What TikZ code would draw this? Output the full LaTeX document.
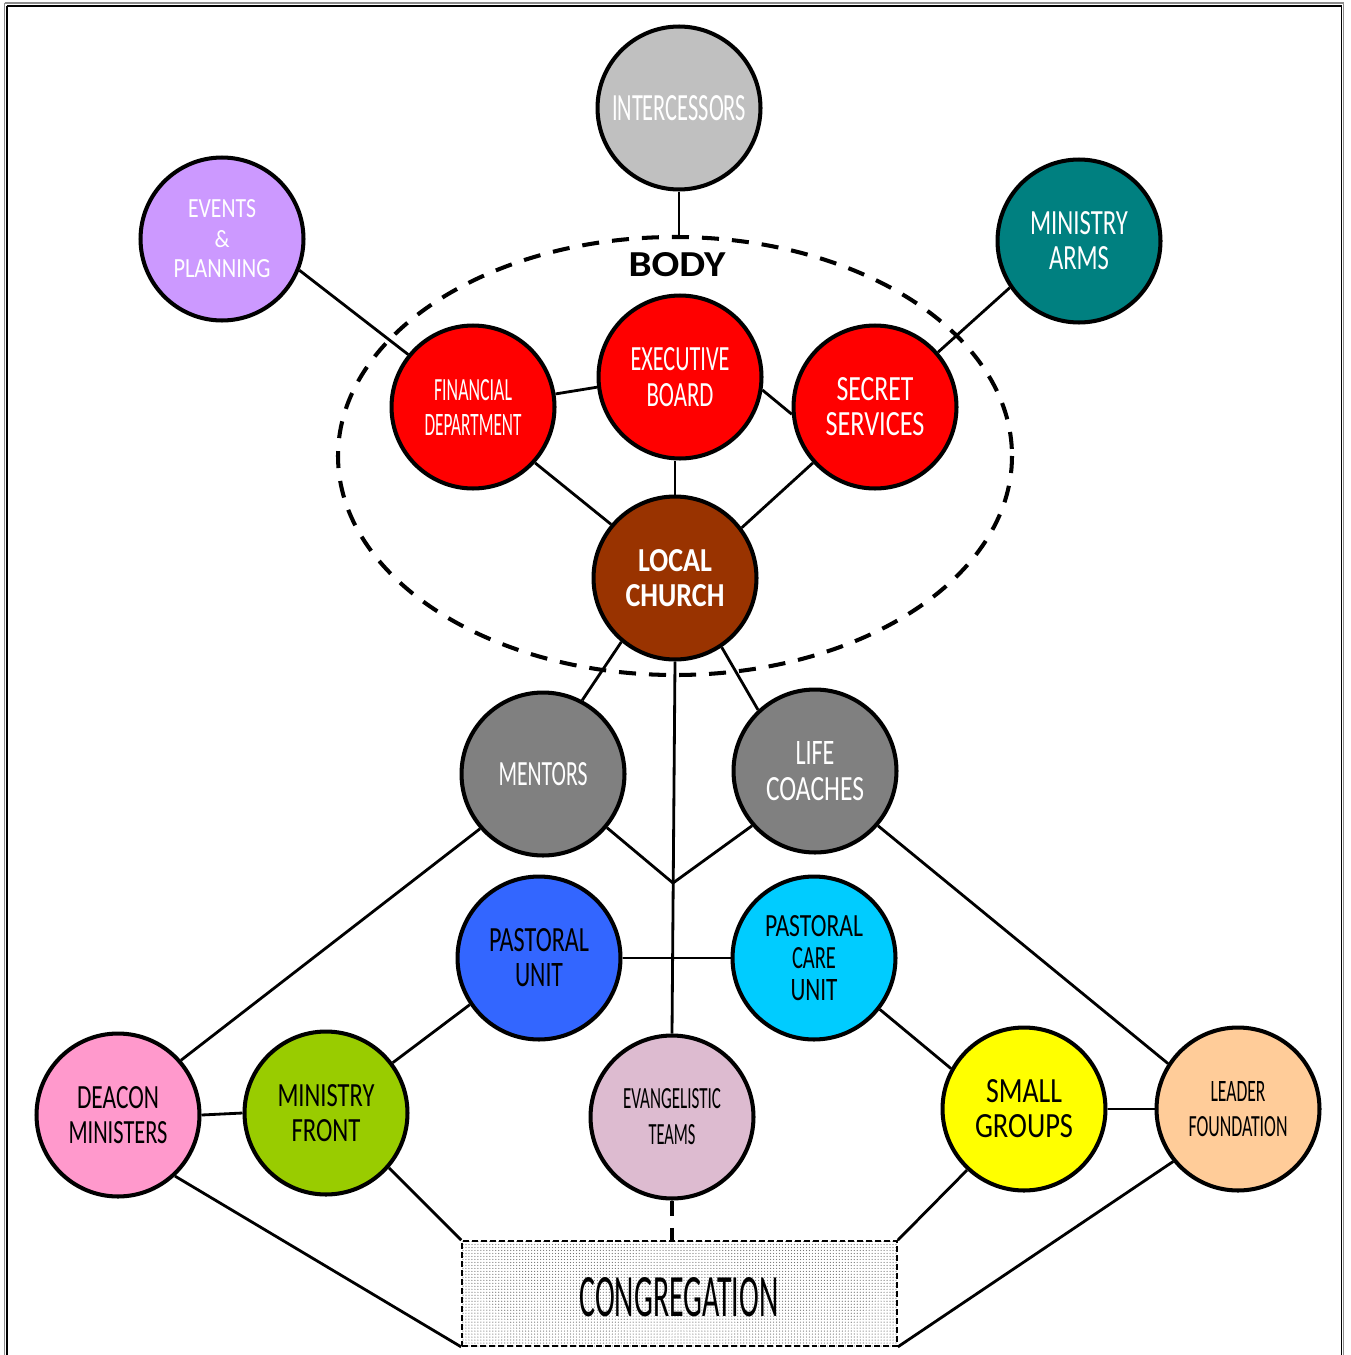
\documentclass[tikz,border=0pt]{standalone}
\usepackage{fontspec}
\setmainfont{Carlito}
\usepackage{graphicx}
\usetikzlibrary{patterns.meta,calc}
\newlength\pxu \setlength\pxu{0.02cm}
\newcommand\fitl[3]{\resizebox{#1\pxu}{#2\pxu}{#3}}
\definecolor{cInt}{RGB}{192,192,192}
\definecolor{cEv}{RGB}{204,153,255}
\definecolor{cArms}{RGB}{0,128,128}
\definecolor{cRed}{RGB}{255,0,0}
\definecolor{cLoc}{RGB}{153,51,0}
\definecolor{cGray}{RGB}{128,128,128}
\definecolor{cPU}{RGB}{51,102,255}
\definecolor{cPCU}{RGB}{0,204,255}
\definecolor{cDea}{RGB}{255,153,204}
\definecolor{cMF}{RGB}{153,204,0}
\definecolor{cEvt}{RGB}{221,187,208}
\definecolor{cSG}{RGB}{255,255,0}
\definecolor{cLF}{RGB}{255,204,153}
\begin{document}
\begin{tikzpicture}[x=0.02cm, y=-0.02cm,
  circ/.style={circle, draw=black, line width=2.3pt, minimum size=3.26cm, inner sep=0pt, align=center},
  conn/.style={line width=1.6pt},
  ls30/.style={font=\fontsize{10pt}{17.07pt}\selectfont},
  ls32/.style={font=\fontsize{10pt}{18.21pt}\selectfont},
  ls35/.style={font=\fontsize{10pt}{19.92pt}\selectfont},
  ls36/.style={font=\fontsize{10pt}{20.49pt}\selectfont},
  wt/.style={text=white},
  bt/.style={text=black}]
\useasboundingbox (0,0) rectangle (1350,1355);
% frame
\draw[line width=0.8pt, black!45] (4.5,3) -- (4.5,1400);
\draw[line width=0.8pt, black!45] (4.5,3) -- (1343.5,3) -- (1343.5,1400);
\draw[line width=1.1pt, black] (6.7,5.7) -- (6.7,1400);
\draw[line width=1.1pt, black] (6.7,5.7) -- (1341.5,5.7) -- (1341.5,1400);
% body ellipse
\draw[line width=2.3pt, dash pattern=on 9.7pt off 7.4pt] (675,456) ellipse [x radius=337, y radius=219];
\coordinate (btop) at (679,237);
\node[font=\bfseries] (body) at (677,265) {\fitl{97}{24}{BODY}};
% nodes
\node[circ, fill=cInt, wt] (int) at (679,108) {\raisebox{-2\pxu}{\fitl{134}{25}{INTERCESSORS}}};
\node[circ, fill=cEv, wt, ls30] (ev) at (222,239) {\fitl{68}{18}{EVENTS}\\\fitl{15}{17}{\&}\\\fitl{97}{18}{PLANNING}};
\node[circ, fill=cArms, wt, ls35] (arms) at (1079,241) {\fitl{98}{23}{MINISTRY}\\\fitl{60}{23}{ARMS}};
\node[circ, fill=cRed, wt, ls35] (fin) at (473,407) {\fitl{78}{21}{FINANCIAL}\\\fitl{97}{21}{DEPARTMENT}};
\node[circ, fill=cRed, wt, ls36] (exe) at (680,377) {\fitl{99}{23}{EXECUTIVE}\\\fitl{67}{23}{BOARD}};
\node[circ, fill=cRed, wt, ls35] (sec) at (875,407) {\fitl{77}{23}{SECRET}\\\fitl{99}{23}{SERVICES}};
\node[circ, fill=cLoc, wt, ls35] (loc) at (675,578) {\fitl{74}{22}{\bfseries LOCAL}\\\fitl{99}{22}{\bfseries CHURCH}};
\node[circ, fill=cGray, wt] (men) at (543,774) {\fitl{89}{23}{MENTORS}};
\node[circ, fill=cGray, wt, ls36] (life) at (815,771) {\fitl{39}{23}{LIFE}\\\fitl{98}{23}{COACHES}};
\node[circ, fill=cPU, bt, ls35] (pu) at (539,958) {\fitl{100}{23}{PASTORAL}\\\fitl{48}{23}{UNIT}};
\node[circ, fill=cPCU, bt, ls32] (pcu) at (814,958) {\fitl{98}{21}{PASTORAL}\\\fitl{44}{21}{CARE}\\\fitl{47}{21}{UNIT}};
\node[circ, fill=cDea, bt, ls35] (dea) at (118,1115) {\fitl{82}{22}{DEACON}\\\fitl{99}{22}{MINISTERS}};
\node[circ, fill=cMF, bt, ls35] (mf) at (326,1113) {\fitl{97}{22}{MINISTRY}\\\fitl{69}{22}{FRONT}};
\node[circ, fill=cEvt, bt, ls36] (evt) at (672,1117) {\fitl{98}{20}{EVANGELISTIC}\\\fitl{47}{20}{TEAMS}};
\node[circ, fill=cSG, bt, ls35] (sg) at (1024,1109) {\fitl{76}{23}{SMALL}\\\fitl{98}{23}{GROUPS}};
\node[circ, fill=cLF, bt, ls35] (lf) at (1238,1109) {\fitl{55}{20}{LEADER}\\\fitl{99}{20}{FOUNDATION}};
\node[draw=black, line width=1pt, dash pattern=on 3.4pt off 1.7pt, fill=black!10,
      pattern={Dots[distance=1.7pt, radius=0.35pt]}, pattern color=black!55,
      minimum width=8.7cm, minimum height=2.1cm, inner sep=0pt] (cong) at (679.5,1293.5) {};
\node at (679,1297.5) (congtxt) {\fitl{199}{39}{CONGREGATION}};
% connectors
\coordinate (jn) at (673,883);
\draw[conn] (int.south) -- (btop);
\draw[conn] (ev.-22) -- (fin.141);
\draw[conn] (arms.-146) -- (sec.41);
\draw[conn] (fin.9.6) -- (exe.-173);
\draw[conn] (exe.-9.5) -- (sec.-175);
\draw[conn] (fin.-42) -- (loc.140);
\draw[conn] (loc.north) -- (loc.north |- exe.south);
\draw[conn] (sec.-138) -- (loc.37);
\draw[conn] (loc.-130) -- (men.62.5);
\draw[conn] (loc.-56.5) -- (life.133);
\draw[conn] (loc.south) -- (evt.north);
\draw[conn] (men.-40) -- (jn);
\draw[conn] (life.-139.4) -- (jn);
\draw[conn] (pu.east) -- (pcu.west);
\draw[conn] (men.-139.4) -- (dea.41.5);
\draw[conn] (life.-41.6) -- (lf.147);
\draw[conn] (pu.-146) -- (mf.37.6);
\draw[conn] (pcu.-38) -- (sg.151);
\draw[conn] (dea.east) -- (mf.west);
\draw[conn] (sg.east) -- (lf.west);
\draw[conn] (dea.-47) -- (cong.south west);
\draw[conn] (mf.-41) -- (cong.north west);
\draw[conn] (sg.-133.5) -- (cong.north east);
\draw[conn] (lf.-141) -- (cong.south east);
\draw[line width=2pt, dash pattern=on 9pt off 6.5pt] (evt.south) -- (evt.south |- cong.north);
\end{tikzpicture}
\end{document}
